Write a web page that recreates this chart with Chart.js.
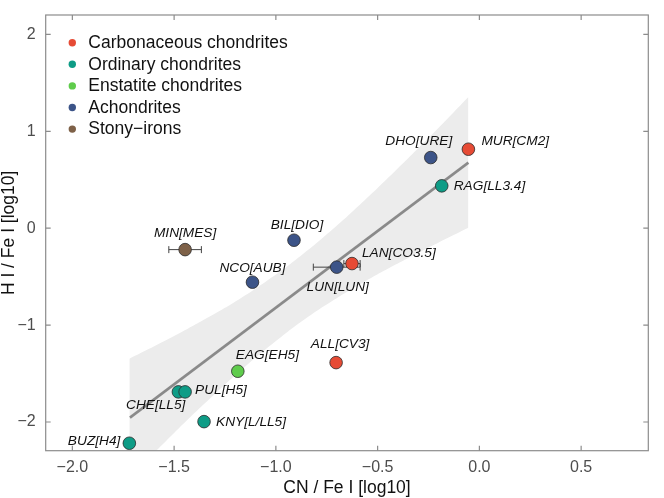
<!DOCTYPE html>
<html>
<head>
<meta charset="utf-8">
<script src="https://cdn.jsdelivr.net/npm/chart.js@4.4.1/dist/chart.umd.min.js"></script>
<style>
  html, body { margin: 0; padding: 0; background: #fff; }
  #wrap { width: 664px; height: 498px; }
</style>
</head>
<body>
<div id="wrap"><canvas id="myChart" width="664" height="498"></canvas></div>
<script>
// meteorite groups
const groupNames = ['Carbonaceous chondrites', 'Ordinary chondrites', 'Enstatite chondrites', 'Achondrites', 'Stony\u2212irons'];
const groupColors = ['#E64B35', '#0E9C86', '#5FCC4C', '#3C5488', '#7E6148'];

// samples
const names = ['MUR[CM2]', 'DHO[URE]', 'RAG[LL3.4]', 'BIL[DIO]', 'MIN[MES]', 'NCO[AUB]', 'LUN[LUN]',
  'LAN[CO3.5]', 'ALL[CV3]', 'EAG[EH5]', 'CHE[LL5]', 'PUL[H5]', 'KNY[L/LL5]', 'BUZ[H4]'];
const groupOf = [0, 3, 1, 3, 4, 3, 3, 0, 0, 2, 1, 1, 1, 1];
const cnFe = [-0.054, -0.239, -0.185, -0.911, -1.446, -1.115, -0.701, -0.626, -0.704, -1.187, -1.479, -1.446, -1.353, -1.720];
const hFe = [0.815, 0.729, 0.437, -0.124, -0.221, -0.557, -0.402, -0.365, -1.387, -1.476, -1.689, -1.689, -1.996, -2.219];
const cnErr = [0, 0, 0, 0, 0.08, 0, 0.115, 0.04, 0, 0, 0, 0, 0, 0];

// fitted line and its confidence band
const fitX = [-1.717, -0.054];
const fitY = [-1.955, 0.677];
const bandX = [-1.72, -1.6, -1.5, -1.4, -1.25, -1.1, -0.94, -0.8, -0.65, -0.5, -0.35, -0.2, -0.054];
const bandUp = [-1.347, -1.221, -1.113, -1.000, -0.822, -0.624, -0.387, -0.153, 0.122, 0.416, 0.723, 1.037, 1.355];
const bandLo = [-2.575, -2.321, -2.113, -1.908, -1.612, -1.334, -1.065, -0.855, -0.656, -0.475, -0.307, -0.147, 0.004];

const xTicks = [-2.0, -1.5, -1.0, -0.5, 0.0, 0.5];
const yTicks = [-2, -1, 0, 1, 2];

// label placement: [dx, dy, align]
const labelPos = [
  [13, -8, 'left'], [-12, -16, 'center'], [12, 0, 'left'], [3, -15, 'center'], [0, -16, 'center'],
  [0, -14, 'center'], [1, 20, 'center'], [10, -10, 'left'], [4, -18, 'center'], [-2, -16, 'left'],
  [7, 13, 'right'], [10, -2, 'left'], [12, 1, 'left'], [-9, -2, 'right']
];

const FONT = "'Liberation Sans', Arial, Helvetica, sans-serif";

let pointSets = groupNames.map(function(name, g) {
  let pts = [];
  for (let i = 0; i < names.length; i++) {
    if (groupOf[i] == g) pts.push({x: cnFe[i], y: hFe[i]});
  }
  return {
    type: 'scatter',
    label: name,
    data: pts,
    backgroundColor: groupColors[g],
    borderColor: '#2b2b2b',
    borderWidth: 0.8,
    pointRadius: 6.3,
    pointHoverRadius: 6.3,
    order: 0
  };
});

let bandUpper = {
  type: 'line',
  label: 'band upper',
  data: bandX.map((x, i) => ({x: x, y: bandUp[i]})),
  borderWidth: 0,
  pointRadius: 0,
  fill: false,
  tension: 0.2,
  order: 2
};
let bandLower = {
  type: 'line',
  label: 'band lower',
  data: bandX.map((x, i) => ({x: x, y: bandLo[i]})),
  borderWidth: 0,
  pointRadius: 0,
  fill: '-1',
  backgroundColor: '#ececec',
  tension: 0.2,
  order: 2
};
let fitLine = {
  type: 'line',
  label: 'fit',
  data: fitX.map((x, i) => ({x: x, y: fitY[i]})),
  borderColor: '#8a8a8a',
  borderWidth: 2.6,
  pointRadius: 0,
  fill: false,
  order: 1
};

const allSets = [bandUpper, bandLower, fitLine].concat(pointSets);
const FIT_INDEX = 2;

function minus(s) { return s.replace('-', '\u2212'); }

// error bars, drawn after the fit line and under the points
const errorBars = {
  id: 'errorBars',
  afterDatasetDraw(chart, args) {
    if (args.index !== FIT_INDEX) return;
    const c = chart.ctx, xs = chart.scales.x, ys = chart.scales.y;
    c.save();
    c.strokeStyle = '#444';
    c.lineWidth = 1;
    for (let i = 0; i < names.length; i++) {
      if (!cnErr[i]) continue;
      const x1 = xs.getPixelForValue(cnFe[i] - cnErr[i]);
      const x2 = xs.getPixelForValue(cnFe[i] + cnErr[i]);
      const y = ys.getPixelForValue(hFe[i]);
      c.beginPath();
      c.moveTo(x1, y); c.lineTo(x2, y);
      c.moveTo(x1, y - 3.5); c.lineTo(x1, y + 3.5);
      c.moveTo(x2, y - 3.5); c.lineTo(x2, y + 3.5);
      c.stroke();
    }
    c.restore();
  }
};

// point labels, frame with inward ticks, legend
const decorations = {
  id: 'decorations',
  afterDatasetsDraw(chart) {
    const c = chart.ctx, xs = chart.scales.x, ys = chart.scales.y, a = chart.chartArea;
    c.save();
    c.font = 'italic 13.7px ' + FONT;
    c.fillStyle = '#111';
    c.textBaseline = 'middle';
    for (let i = 0; i < names.length; i++) {
      const px = xs.getPixelForValue(cnFe[i]);
      const py = ys.getPixelForValue(hFe[i]);
      c.textAlign = labelPos[i][2];
      c.fillText(names[i], px + labelPos[i][0], py + labelPos[i][1]);
    }

    c.strokeStyle = '#8c8c8c';
    c.lineWidth = 1.2;
    c.strokeRect(a.left, a.top, a.right - a.left, a.bottom - a.top);
    c.beginPath();
    xTicks.forEach(function(v) {
      const p = xs.getPixelForValue(v);
      c.moveTo(p, a.bottom); c.lineTo(p, a.bottom - 5);
      c.moveTo(p, a.top); c.lineTo(p, a.top + 5);
    });
    yTicks.forEach(function(v) {
      const p = ys.getPixelForValue(v);
      c.moveTo(a.left, p); c.lineTo(a.left + 5, p);
      c.moveTo(a.right, p); c.lineTo(a.right - 5, p);
    });
    c.stroke();

    c.font = '17.5px ' + FONT;
    c.textAlign = 'left';
    groupNames.forEach(function(name, g) {
      const y = 42.7 + g * 21.6;
      c.fillStyle = groupColors[g];
      c.beginPath();
      c.arc(72.3, y, 3.7, 0, Math.PI * 2);
      c.fill();
      c.fillStyle = '#111';
      c.fillText(name, 88.3, y + 0.5);
    });
    c.restore();
  }
};

const ctx = document.getElementById('myChart');
const chart = new Chart(ctx, {
  type: 'scatter',
  data: { datasets: allSets },
  options: {
    responsive: false,
    animation: false,
    events: [],
    layout: { padding: { top: 15, right: 15.7, left: 0, bottom: 0 } },
    plugins: {
      legend: { display: false },
      tooltip: { enabled: false }
    },
    scales: {
      x: {
        type: 'linear',
        min: -2.131,
        max: 0.830,
        afterBuildTicks: function(scale) { scale.ticks = xTicks.map(v => ({value: v})); },
        afterFit: function(scale) { scale.height = 47.3; },
        grid: { display: false, drawTicks: false },
        border: { display: false },
        ticks: {
          padding: 7,
          color: '#4d4d4d',
          font: { family: FONT, size: 16 },
          maxRotation: 0,
          callback: function(v) { return minus(Number(v).toFixed(1)); }
        },
        title: {
          display: true,
          text: 'CN / Fe I [log10]',
          color: '#111',
          font: { family: FONT, size: 17.5, lineHeight: 1 },
          padding: { top: 0, bottom: 1 }
        }
      },
      y: {
        type: 'linear',
        min: -2.296,
        max: 2.2,
        afterBuildTicks: function(scale) { scale.ticks = yTicks.map(v => ({value: v})); },
        afterFit: function(scale) { scale.width = 45.7; scale.paddingTop = 0; scale.paddingBottom = 0; },
        grid: { display: false, drawTicks: false },
        border: { display: false },
        ticks: {
          padding: 10,
          color: '#4d4d4d',
          font: { family: FONT, size: 16 },
          callback: function(v) { return minus(String(v)); }
        },
        title: {
          display: true,
          text: 'H I / Fe I [log10]',
          color: '#111',
          font: { family: FONT, size: 17.5, lineHeight: 1 },
          padding: { top: 0, bottom: 0 }
        }
      }
    }
  },
  plugins: [errorBars, decorations]
});
console.log(JSON.stringify(chart.chartArea));
</script>
</body>
</html>
